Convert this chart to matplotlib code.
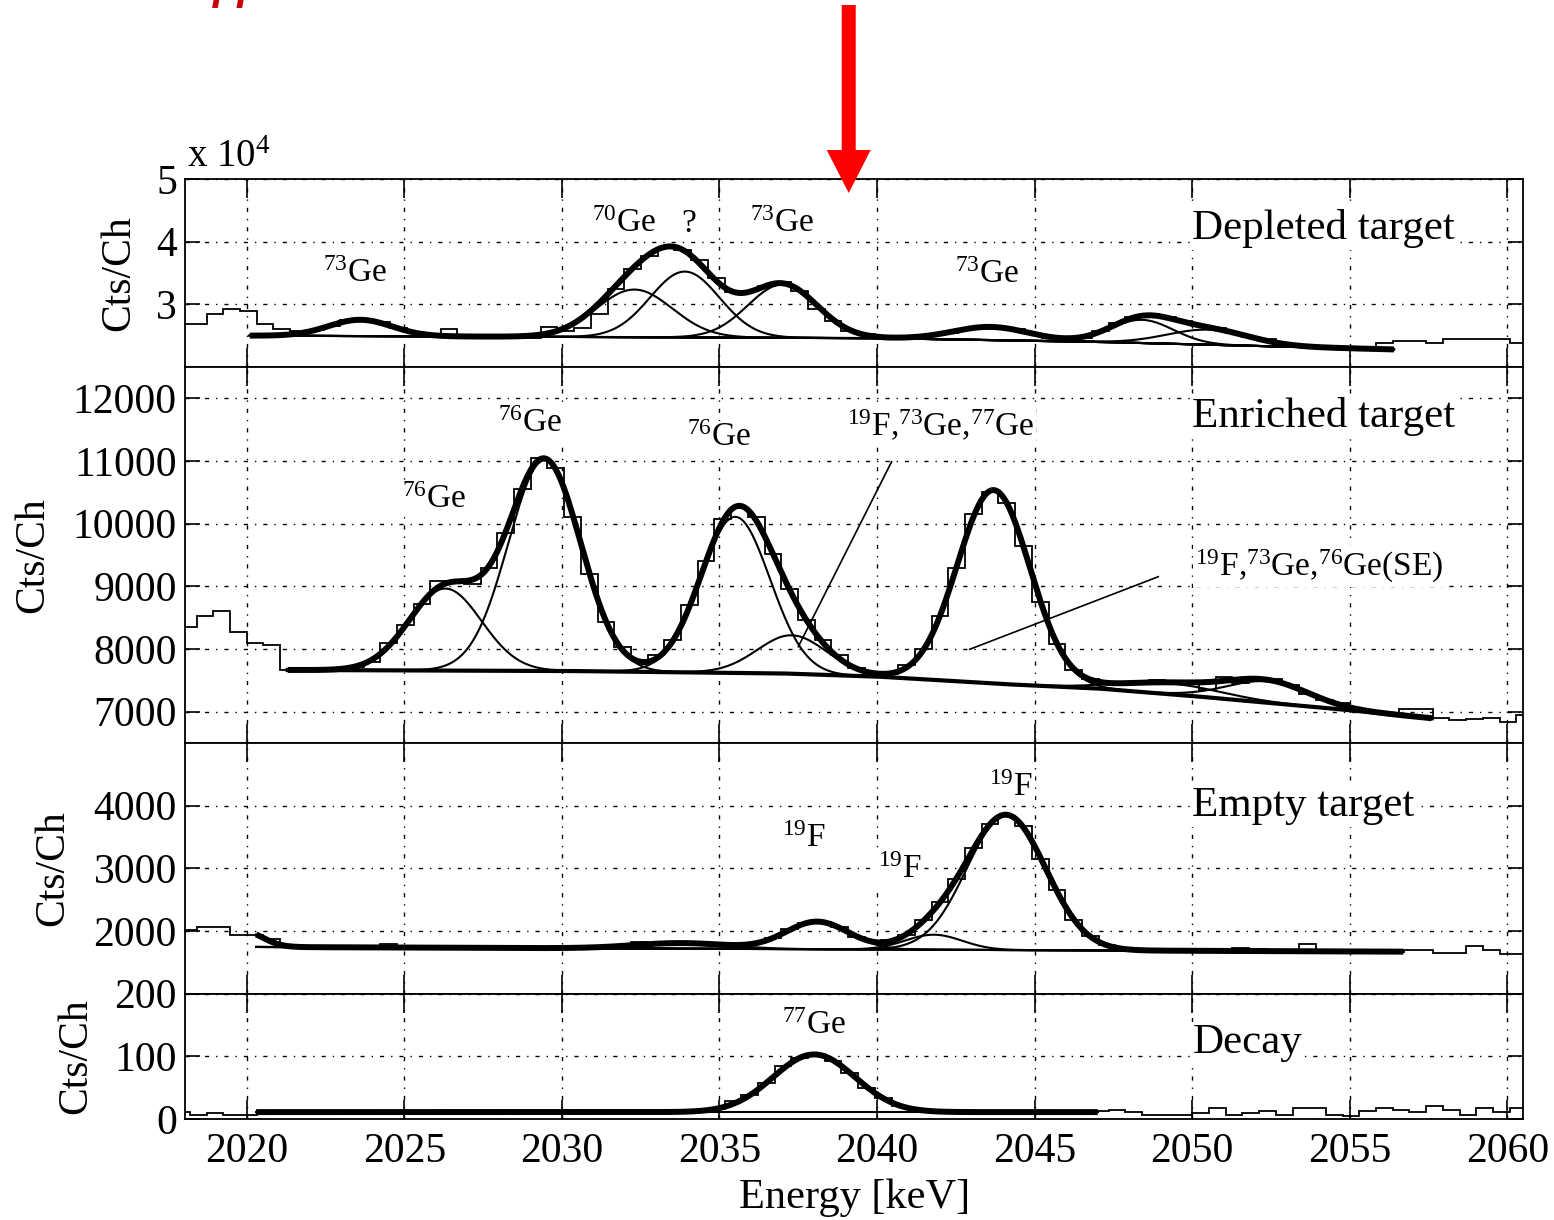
import numpy as np
import matplotlib.pyplot as plt
from matplotlib.patches import FancyArrow

plt.rcParams['font.family'] = ['Liberation Serif', 'DejaVu Serif']
plt.rcParams['mathtext.fontset'] = 'custom'
plt.rcParams['mathtext.rm'] = 'Liberation Serif'
plt.rcParams['mathtext.it'] = 'Liberation Serif:italic'
plt.rcParams['mathtext.bf'] = 'Liberation Serif:bold'

CH = 0.53  # keV per channel

# ---- Depleted target (counts in units of 1e4) ----
depl_start = 2017.67
depl_counts = [
    2.68, 2.68, 2.85, 2.93, 2.90, 2.68, 2.60, 2.57, 2.59, 2.66,
    2.75, 2.74, 2.71, 2.62, 2.56, 2.52, 2.60, 2.50, 2.49, 2.46,
    2.46, 2.47, 2.63, 2.58, 2.62, 2.85, 3.25, 3.56, 3.77, 3.90,
    3.86, 3.70, 3.42, 3.20, 3.22, 3.30, 3.36, 3.22, 2.92, 2.74,
    2.58, 2.52, 2.47, 2.45, 2.48, 2.52, 2.55, 2.61, 2.64, 2.63,
    2.60, 2.53, 2.47, 2.45, 2.47, 2.58, 2.70, 2.80, 2.84, 2.79,
    2.73, 2.66, 2.62, 2.54, 2.48, 2.44, 2.37, 2.34, 2.32, 2.31,
    2.30, 2.30, 2.39, 2.41, 2.41, 2.39, 2.44, 2.45, 2.45, 2.45,
    2.39]
depl_bg_E = [2020.1, 2040.0, 2047.0, 2056.4]
depl_bg_v = [2.50, 2.46, 2.40, 2.28]
depl_pk_E = [2023.6, 2032.3, 2033.9, 2037.0, 2043.6, 2048.4, 2050.5]
depl_pk_h = [0.26, 0.76, 1.05, 0.85, 0.21, 0.37, 0.24]
depl_pk_s = [1.0, 1.2, 1.1, 1.1, 1.2, 1.0, 1.3]

# ---- Enriched target ----
enr_start = 2017.88
enr_counts = [
    8356, 8531, 8606, 8266, 8101, 8064, 7665, 7670, 7660, 7680,
    7710, 7800, 8090, 8380, 8720, 9080, 9060, 9040, 9300, 9850,
    10550, 11040, 10880, 10100, 9200, 8430, 8030, 7830, 7900, 8150,
    8700, 9400, 10080, 10250, 10100, 9520, 8960, 8470, 8140, 7900,
    7700, 7610, 7600, 7740, 8000, 8520, 9300, 10150, 10500, 10330,
    9650, 8750, 8080, 7660, 7520, 7440, 7470, 7480, 7500, 7440,
    7470, 7350, 7560, 7460, 7490, 7520, 7430, 7280, 7180, 7130,
    7030, 6990, 6960, 7050, 7050, 6900, 6870, 6890, 6895, 6840,
    6950]
enr_bg_E = [2021.3, 2030.0, 2037.0, 2040.0, 2044.0, 2047.0, 2050.0, 2054.0, 2057.6]
enr_bg_v = [7665, 7650, 7610, 7560, 7440, 7370, 7250, 7070, 6895]
enr_pk_E = [2026.3, 2029.45, 2035.5, 2037.3, 2043.7, 2049.3, 2052.4]
enr_pk_h = [1308, 3360, 2490, 613, 3086, 170, 340]
enr_pk_s = [1.15, 1.15, 1.1, 1.1, 1.15, 1.6, 1.3]

# ---- Empty target ----
emp_start = 2017.88
emp_counts = [
    2016, 2069, 2069, 1936, 1940, 1880, 1770, 1735, 1730, 1740,
    1735, 1745, 1790, 1745, 1730, 1720, 1725, 1715, 1720, 1730,
    1735, 1720, 1730, 1735, 1725, 1750, 1755, 1820, 1790, 1810,
    1800, 1795, 1770, 1780, 1810, 1890, 2030, 2130, 2150, 2060,
    1910, 1840, 1850, 1940, 2180, 2470, 2830, 3320, 3700, 3830,
    3680, 3150, 2650, 2170, 1920, 1780, 1720, 1690, 1700, 1720,
    1665, 1660, 1690, 1725, 1720, 1685, 1690, 1790, 1680, 1670,
    1675, 1680, 1670, 1697, 1697, 1644, 1644, 1761, 1697, 1635,
    1628]
emp_bg_E = [2020.3, 2056.7]
emp_bg_v = [1745, 1670]
emp_pk_E = [2019.9, 2033.8, 2038.1, 2041.8, 2044.1]
emp_pk_h = [250, 90, 440, 240, 2150]
emp_pk_s = [0.6, 1.5, 1.0, 0.9, 1.25]

# ---- Decay ----
dec_start = 2017.67
dec_counts = [
    11, 6, 10, 6, 6, 12, 13, 11, 10, 11,
    12, 11, 10, 12, 11, 10, 11, 13, 11, 10,
    11, 12, 11, 10, 11, 12, 11, 10, 11, 12,
    11, 13, 16, 28, 38, 58, 84, 98, 103, 93,
    74, 49, 33, 21, 15, 12, 10, 11, 12, 11,
    10, 11, 12, 11, 12, 13, 15, 11, 6, 6,
    6, 10, 17, 6, 10, 13, 6, 17, 17, 6,
    4, 13, 17, 15, 11, 20, 15, 6, 17, 11,
    17]
dec_bg_E = [2020.3, 2047.0]
dec_bg_v = [11, 11]
dec_pk_E = [2038.0]
dec_pk_h = [92]
dec_pk_s = [1.3]


def draw_panel(ax, start, counts, bg_E, bg_v, pk_E, pk_h, pk_s, bg_lw=1.5):
    edges = start + CH * np.arange(len(counts) + 1)
    ax.stairs(counts, edges, color='k', lw=1.3, zorder=3)
    e = np.linspace(bg_E[0], bg_E[-1], 900)
    bg = np.interp(e, bg_E, bg_v)
    total = bg.copy()
    for c, h, s in zip(pk_E, pk_h, pk_s):
        g = h * np.exp(-0.5 * ((e - c) / s) ** 2)
        total += g
        ax.plot(e, bg + g, color='k', lw=1.5, zorder=4)
    ax.plot(e, bg, color='k', lw=bg_lw, zorder=4)
    ax.plot(e, total, color='k', lw=4.3, zorder=5, solid_capstyle='butt')


def label(ax, x, y, s, size=24, **kw):
    ax.text(x, y, s, fontsize=size, ha='left', va='center', zorder=6,
            bbox=dict(fc='white', ec='none', pad=1.5), **kw)


fig = plt.figure(figsize=(15.54, 12.2), dpi=100)
gs = fig.add_gridspec(4, 1, height_ratios=[3, 6, 4, 2], hspace=0,
                      left=0.1192, right=0.9802, top=0.8533, bottom=0.0828)
axes = [fig.add_subplot(gs[i]) for i in range(4)]
ax1, ax2, ax3, ax4 = axes

for ax in axes:
    ax.set_xlim(2018.05, 2060.5)
    ax.set_xticks(np.arange(2020, 2061, 5))
    ax.tick_params(axis='x', direction='in', top=True, bottom=True,
                   length=14, width=1.2, labelsize=30, pad=10)
    ax.tick_params(axis='y', direction='in', left=True, right=True,
                   length=10.5, width=1.2, labelsize=30, pad=6)
    ax.grid(True, color='k', lw=1.0, linestyle=(0, (3, 5, 1, 5)))
    for sp in ax.spines.values():
        sp.set_linewidth(1.3)
    if ax is not ax4:
        ax.tick_params(labelbottom=False)

draw_panel(ax1, depl_start, depl_counts, depl_bg_E, depl_bg_v,
           depl_pk_E, depl_pk_h, depl_pk_s)
draw_panel(ax2, enr_start, enr_counts, enr_bg_E, enr_bg_v,
           enr_pk_E, enr_pk_h, enr_pk_s, bg_lw=3.0)
draw_panel(ax3, emp_start, emp_counts, emp_bg_E, emp_bg_v,
           emp_pk_E, emp_pk_h, emp_pk_s)
draw_panel(ax4, dec_start, dec_counts, dec_bg_E, dec_bg_v,
           dec_pk_E, dec_pk_h, dec_pk_s)

ax1.set_ylim(2, 5)
ax1.set_yticks([3, 4, 5])
ax1.set_yticklabels(['3', '4', '5'])
ax2.set_ylim(6500, 12500)
ax2.set_yticks(np.arange(7000, 12001, 1000))
ax3.set_ylim(1000, 5000)
ax3.set_yticks([2000, 3000, 4000])
ax4.set_ylim(0, 200)
ax4.set_yticks([0, 100, 200])

for ax, xl in zip(axes, [-0.0496, -0.1139, -0.0992, -0.0817]):
    ax.set_ylabel('Cts/Ch', fontsize=30, va='center')
    ax.yaxis.set_label_coords(xl, 0.5)

ax1.annotate('x 10$^4$', xy=(0, 1), xycoords='axes fraction',
             xytext=(1, 8.5), textcoords='offset points',
             fontsize=28, ha='left', va='baseline')

# panel titles
label(ax1, 2050.0, 4.21, 'Depleted target', size=31)
label(ax2, 2050.0, 11705, 'Enriched target', size=31)
label(ax3, 2050.0, 3997, 'Empty target', size=31)
label(ax4, 2050.0, 121, 'Decay', size=31)

# peak labels
label(ax1, 2022.43, 3.49, r'$^{73}$Ge')
label(ax1, 2030.94, 4.29, r'$^{70}$Ge')
label(ax1, 2033.78, 4.29, '?')
label(ax1, 2035.97, 4.29, r'$^{73}$Ge')
label(ax1, 2042.47, 3.48, r'$^{73}$Ge')

label(ax2, 2024.92, 10377, r'$^{76}$Ge')
label(ax2, 2027.98, 11589, r'$^{76}$Ge')
label(ax2, 2033.96, 11366, r'$^{76}$Ge')
label(ax2, 2039.03, 11565, r'$^{19}$F,$^{73}$Ge,$^{77}$Ge')
label(ax2, 2050.08, 9324, r'$^{19}$F,$^{73}$Ge,$^{76}$Ge(SE)')
ax2.plot([2040.46, 2037.50], [10988, 8037], color='k', lw=1.2, zorder=6)
ax2.plot([2042.94, 2048.92], [7995, 9153], color='k', lw=1.2, zorder=6)

label(ax3, 2036.98, 3467, r'$^{19}$F')
label(ax3, 2040.04, 2973, r'$^{19}$F')
label(ax3, 2043.56, 4281, r'$^{19}$F')

label(ax4, 2036.98, 149, r'$^{77}$Ge')

fig.text(0.5497, 1 - 1208 / 1220, 'Energy [keV]', fontsize=30.5,
         ha='center', va='baseline')

# arrow marking the Q-value region
arrow_E = 2039.1
x_px = ax1.transData.transform((arrow_E, 5))[0]
xf = x_px / fig.bbox.width
fig.add_artist(FancyArrow(xf, 1 - 5 / 1220, 0, -188 / 1220,
                          width=14 / 1554, head_width=44 / 1554,
                          head_length=43 / 1220, length_includes_head=True,
                          color='#ff0000', lw=0, transform=fig.transFigure))

# clipped slide text at the very top
fig.text(0.137, 1 + 1 / 1220, 'pp', color='#c8000a', fontsize=30,
         fontstyle='italic', fontweight='bold', family='Liberation Sans',
         va='baseline', ha='left')

fig.savefig('out.png', dpi=100)
